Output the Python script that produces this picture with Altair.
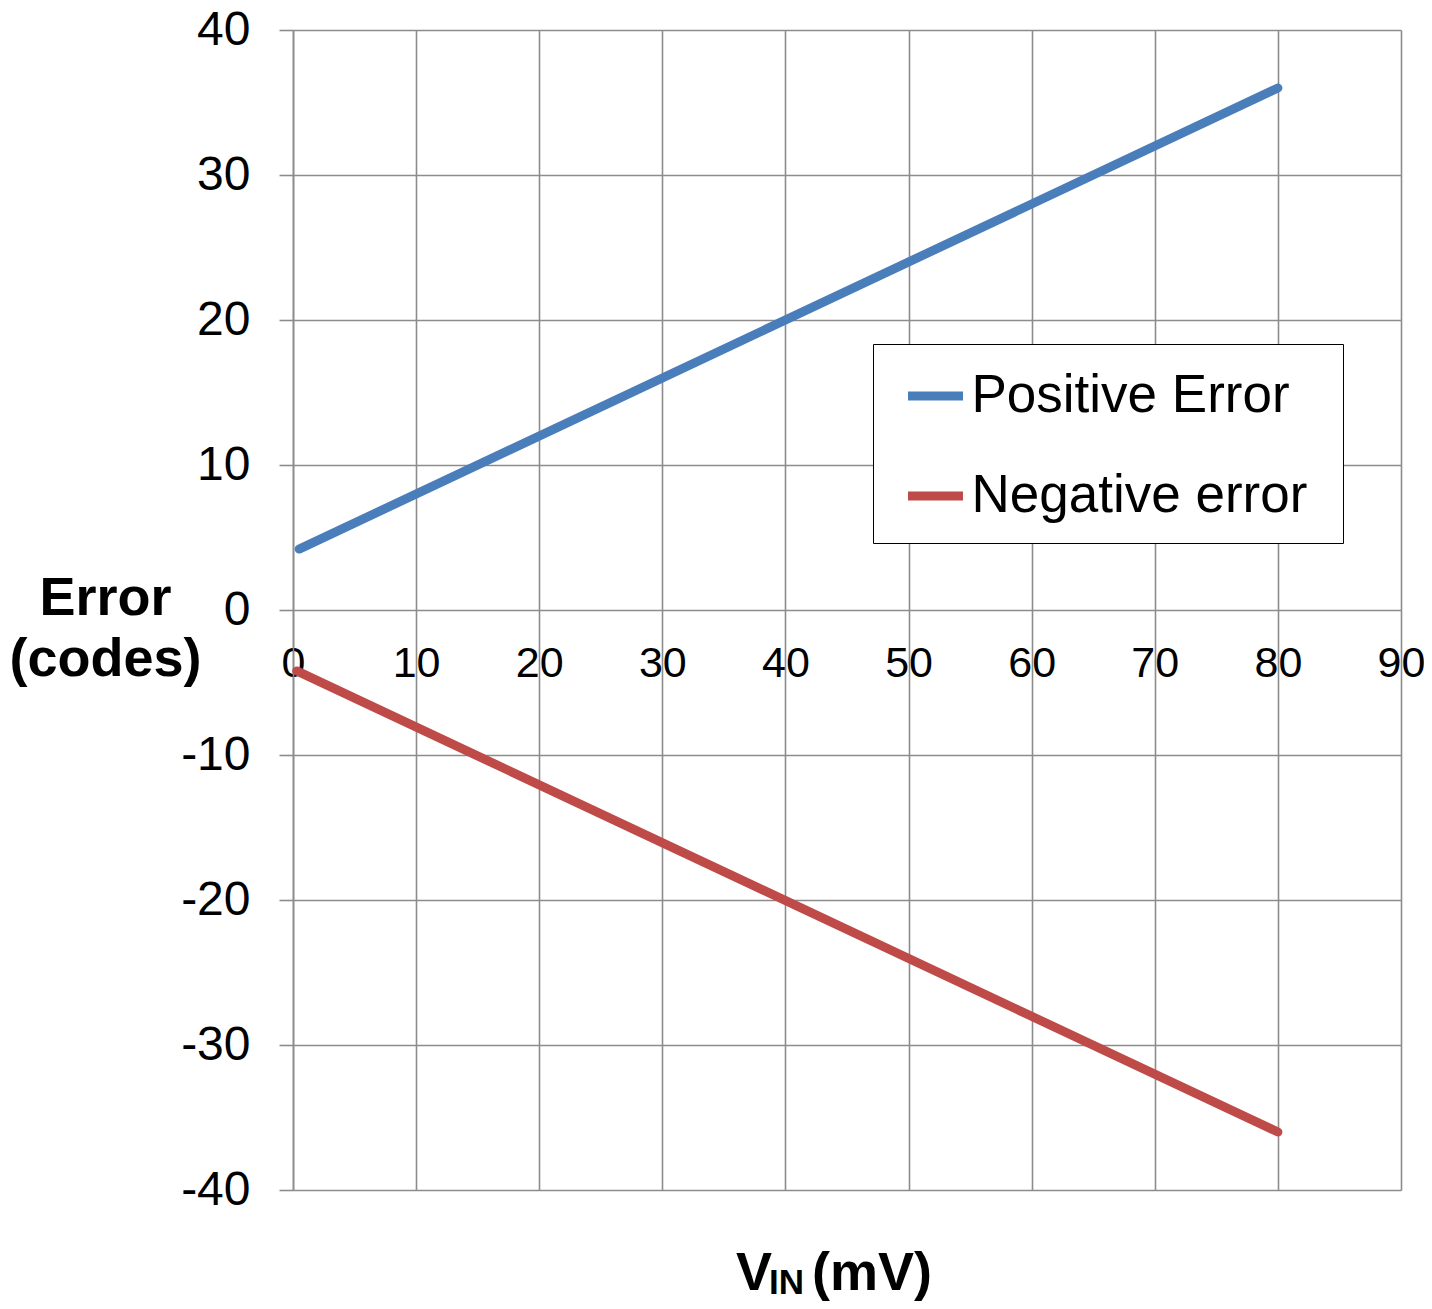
import altair as alt
import pandas as pd

# Data
series_names = ["Positive Error", "Negative error"]
vin_pos = [0.5, 80]
err_pos = [4.2, 36]
vin_neg = [0.3, 80]
err_neg = [-4.2, -36]
x_ticks = [0, 10, 20, 30, 40, 50, 60, 70, 80, 90]
y_ticks = [-40, -30, -20, -10, 0, 10, 20, 30, 40]
colors = ["#4A7EBB", "#BE4B48"]

rows = []
for v, e in zip(vin_pos, err_pos):
    rows.append({"vin": v, "err": e, "series": series_names[0]})
for v, e in zip(vin_neg, err_neg):
    rows.append({"vin": v, "err": e, "series": series_names[1]})
df = pd.DataFrame(rows)

FONT = "Liberation Sans"
GRID = "#8c8c8c"
ZWSP = "\u200b"

lines = alt.Chart(df).mark_line(strokeWidth=9, strokeCap="round").encode(
    x=alt.X("vin:Q",
            scale=alt.Scale(domain=[0, 90], nice=False, zero=False),
            axis=alt.Axis(values=x_ticks, title=None, offset=-580,
                          ticks=False, domain=False, labelFontSize=43,
                          labelFont=FONT, labelColor="black",
                          labelPadding=32, labelBaseline="top",
                          labelExpr="'' + datum.value",
                          grid=True, gridColor=GRID, gridWidth=1.6,
                          labelFlush=False)),
    y=alt.Y("err:Q",
            scale=alt.Scale(domain=[-40, 40], nice=False, zero=False),
            axis=alt.Axis(values=y_ticks, title=["Error", "(codes)"],
                          titleAngle=0, titleFont=FONT, titleFontSize=54,
                          titleFontWeight="bold", titleColor="black",
                          titleAlign="center", titleBaseline="alphabetic",
                          titleX=-188, titleY=584, titleLineHeight=61,
                          ticks=True, tickSize=14, tickColor=GRID,
                          tickWidth=1.6, domain=True, domainColor=GRID,
                          domainWidth=1.6, labelFontSize=48, labelFont=FONT,
                          labelColor="black", labelPadding=29,
                          labelExpr="'' + datum.value",
                          grid=True, gridColor=GRID, gridWidth=1.6)),
    color=alt.Color("series:N",
                    scale=alt.Scale(domain=series_names, range=colors),
                    legend=alt.Legend(title=None, orient="none",
                                      legendX=580, legendY=314,
                                      strokeColor="black", fillColor="white",
                                      padding=20, symbolType="stroke",
                                      symbolStrokeWidth=9, symbolSize=3025,
                                      symbolOffset=10.5,
                                      labelFont=FONT, labelFontSize=53,
                                      labelColor="black", labelOffset=4,
                                      labelExpr="datum.label + ' " + ZWSP + "'",
                                      rowPadding=41, labelLimit=600)),
    order=alt.Order("vin:Q"),
)

t_v = alt.Chart(pd.DataFrame({"t": ["V"]})).mark_text(
    font=FONT, fontSize=54, fontWeight="bold", align="left",
    baseline="alphabetic", color="black"
).encode(text="t:N", x=alt.value(443), y=alt.value(1260))

t_in = alt.Chart(pd.DataFrame({"t": ["IN"]})).mark_text(
    font=FONT, fontSize=35, fontWeight="bold", align="left",
    baseline="alphabetic", color="black"
).encode(text="t:N", x=alt.value(476), y=alt.value(1263.5))

t_mv = alt.Chart(pd.DataFrame({"t": ["(mV)"]})).mark_text(
    font=FONT, fontSize=54, fontWeight="bold", align="left",
    baseline="alphabetic", color="black"
).encode(text="t:N", x=alt.value(519), y=alt.value(1260))

chart = alt.layer(lines, t_v, t_in, t_mv).properties(
    width=1108, height=1160,
    autosize=alt.AutoSizeParams(type="none"),
    padding={"left": 285, "top": 22, "right": 23, "bottom": 111},
    background="white",
).configure_view(stroke=None)

chart.save("out.html", embed_options={"renderer": "svg", "actions": False})
